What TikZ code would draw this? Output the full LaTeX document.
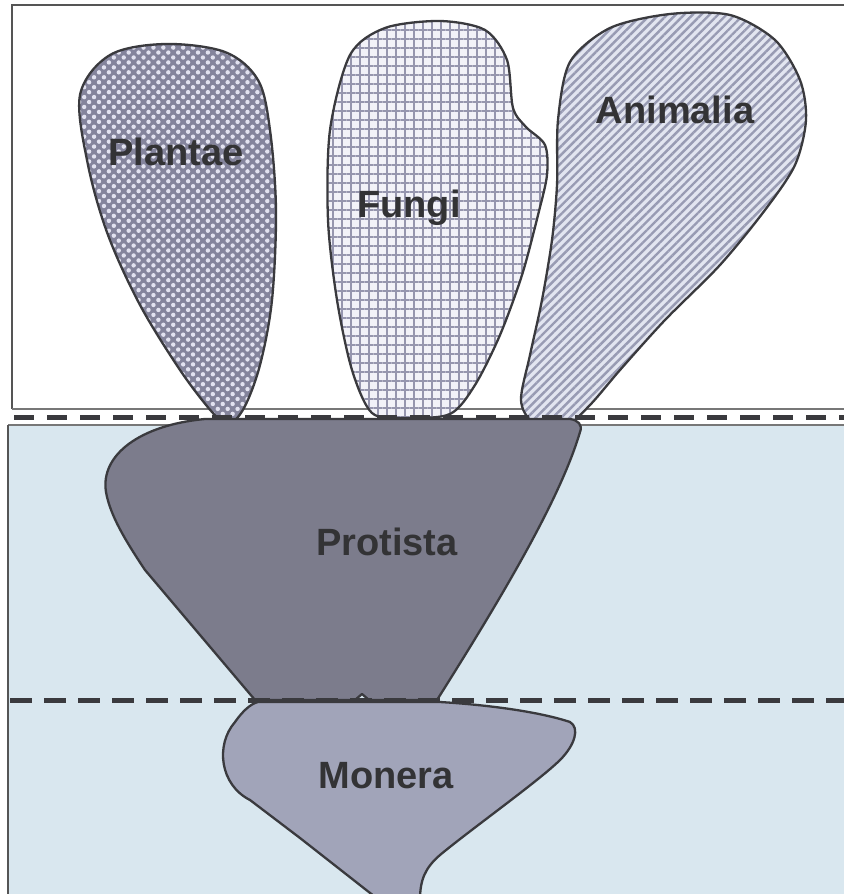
\documentclass[tikz,border=0pt]{standalone}
\usepackage{fontspec}
\setmainfont{Liberation Sans}
\usetikzlibrary{patterns.meta}
\definecolor{bgblue}{HTML}{D9E7EF}
\definecolor{outline}{HTML}{3A3A3E}
\definecolor{frameline}{HTML}{555555}
\definecolor{labeltext}{HTML}{333335}
\definecolor{plantbase}{HTML}{84849C}
\definecolor{plantdot}{HTML}{E2E2F0}
\definecolor{fungbase}{HTML}{F2F2F8}
\definecolor{funggrid}{HTML}{9696AE}
\definecolor{animbase}{HTML}{E2E5F0}
\definecolor{animline}{HTML}{989BB3}
\definecolor{protfill}{HTML}{7C7C8C}
\definecolor{monfill}{HTML}{A1A4B9}
\begin{document}
\begin{tikzpicture}[x=1pt,y=-1pt,
  blob/.style={draw=outline, line width=2.3pt, line join=round},
  lbl/.style={font=\fontsize{38}{40}\selectfont\bfseries, text=labeltext, inner sep=0pt, anchor=base},
  frame/.style={draw=frameline, line width=2.6pt},
  thinband/.style={draw=frameline!80, line width=2pt},
  dashline/.style={draw=outline, line width=5pt}
]
\useasboundingbox (0,0) rectangle (844,894);
\clip (0,0) rectangle (844,894);
% backgrounds
\fill[white] (0,0) rectangle (844,424);
\fill[bgblue] (8,425) rectangle (844,894);
% frame lines
\draw[frame] (12,409) -- (12,5) -- (844,5);
\draw[thinband] (12,409) -- (844,409);
\draw[thinband] (8,425) -- (844,425);
\draw[frame] (8,425) -- (8,894);
% Plantae
\draw[blob, preaction={fill=plantbase},
      pattern={Dots[distance=7pt, radius=2.2pt, angle=45]}, pattern color=plantdot]
  plot[smooth cycle, tension=0.55] coordinates {
  (80,95) (110,55) (165,44) (225,52) (258,80) (270,130) (276,210) (272,300)
  (260,365) (244,408) (228,424) (212,412) (180,370) (140,305) (108,235) (88,165)};
% Fungi
\draw[blob, preaction={fill=fungbase},
      pattern={Hatch[distance=9pt, line width=2.4pt, angle=0]}, pattern color=funggrid]
  plot[smooth cycle, tension=0.5] coordinates {
  (350,55) (385,28) (440,21) (485,30) (507,60) (513,108) (526,127) (545,145)
  (547,175) (538,215) (522,275) (500,335) (475,385) (450,414) (405,418)
  (372,413) (352,370) (337,300) (328,220) (330,130)};
% Animalia
\draw[blob, preaction={fill=animbase},
      pattern={Lines[angle=45, distance=6pt, line width=2.4pt]}, pattern color=animline]
  plot[smooth cycle, tension=0.5] coordinates {
  (558,120) (570,62) (610,28) (670,14) (730,15) (775,40) (800,80) (806,120)
  (795,165) (765,210) (720,265) (665,320) (620,370) (590,405) (565,426)
  (533,422) (521,400) (530,355) (542,300) (552,240) (557,185)};
% Protista
\draw[blob, fill=protfill]
  (205,419) .. controls (140,425) and (100,455) .. (106,492)
  .. controls (110,515) and (125,540) .. (145,570)
  -- (255,700) -- (355,700) -- (362,694) -- (369,700) -- (437,700)
  .. controls (500,600) and (560,500) .. (580,432)
  .. controls (583,425) and (578,420) .. (570,419) -- cycle;
% Monera
\draw[blob, fill=monfill]
  (258,702) -- (440,702) .. controls (490,705) and (540,712) .. (570,722)
  .. controls (580,728) and (575,745) .. (560,760)
  .. controls (540,780) and (470,830) .. (440,855)
  .. controls (425,868) and (420,880) .. (420,900)
  -- (379,900) -- (300,838) -- (250,800)
  .. controls (220,785) and (215,745) .. (235,722)
  .. controls (242,712) and (250,704) .. (258,702) -- cycle;
% dashed lines
\coordinate (d1a) at (14,417);
\coordinate (d1b) at (844,417);
\coordinate (d2a) at (10,700);
\coordinate (d2b) at (844,700);
\draw[dashline, dash pattern=on 20pt off 13pt] (d1a) -- (d1b);
\draw[dashline, dash pattern=on 22pt off 12pt] (d2a) -- (d2b);
% labels
\node[lbl] (plantae) at (176,165) {Plantae};
\node[lbl] (fungi) at (409,217) {Fungi};
\node[lbl] (animalia) at (675,123) {Animalia};
\node[lbl] (protista) at (387,555) {Protista};
\node[lbl] (monera) at (386,788) {Monera};
\end{tikzpicture}
\end{document}
